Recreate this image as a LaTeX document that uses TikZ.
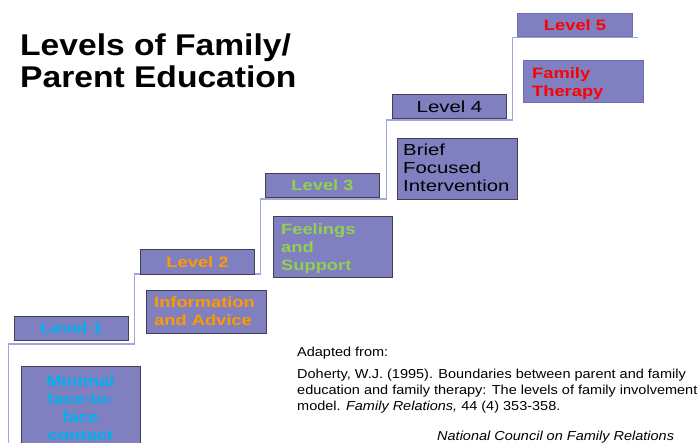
\documentclass[tikz,border=0pt]{standalone}
\usepackage{fontspec}
\setmainfont{Liberation Sans}
\newfontfamily\titlef[FakeStretch=1.12]{Liberation Sans}
\newfontfamily\boxf[FakeStretch=1.22]{Liberation Sans}
\newfontfamily\regf[FakeStretch=1.27]{Liberation Sans}
\newfontfamily\citef[FakeStretch=1.115]{Liberation Sans}
\definecolor{boxfill}{RGB}{128,128,192}
\definecolor{boxline}{RGB}{64,64,84}
\definecolor{boxline5}{RGB}{110,110,180}
\definecolor{stair}{RGB}{165,165,220}
\definecolor{lcyan}{RGB}{0,176,240}
\definecolor{lorange}{RGB}{255,153,0}
\definecolor{lgreen}{RGB}{146,208,80}
\definecolor{lred}{RGB}{255,0,0}
\tikzset{
  box/.style={draw=boxline, line width=1pt, fill=boxfill, inner sep=0pt, anchor=north west},
  lvl/.style={box, minimum width=114pt, minimum height=24pt, font=\boxf\fontsize{15}{18}\selectfont\bfseries},
  body/.style={inner sep=0pt, anchor=north west, align=left, font=\boxf\fontsize{15}{18}\selectfont\bfseries},
  stairline/.style={draw=stair, line width=1.5pt}
}
\begin{document}
\begin{tikzpicture}[x=1pt,y=-1pt]
\clip (0,0) rectangle (700,443);
\fill[white] (0,0) rectangle (700,443);
% staircase
\draw[stairline] (8.5,445) -- (8.5,344) -- (134.5,344) -- (134.5,274) -- (260.5,274) -- (260.5,199) -- (386.5,199) -- (386.5,120) -- (512.5,120) -- (512.5,37.5) -- (638,37.5);
% title
\node[inner sep=0pt, anchor=north west, align=left, font=\titlef\fontsize{30}{32}\selectfont\bfseries] (title) at (20,34) {Levels of Family/\\Parent Education};
% level boxes
\node[lvl, text=lcyan] (l1) at (14,316) {Level 1};
\node[lvl, text=lorange, minimum height=25pt] (l2) at (140,249) {Level 2};
\node[lvl, text=lgreen] (l3) at (265,173) {Level 3};
\node[lvl, font=\regf\fontsize{16}{18}\selectfont] (l4) at (392,94) {Level 4};
\node[lvl, draw=boxline5, text=lred, minimum width=115pt, minimum height=23pt] (l5) at (517,13) {Level 5};
% content boxes
\node[box, minimum width=119pt, minimum height=90pt] (b1) at (21,366) {};
\node[body, anchor=north, align=center, text=lcyan] (t1) at (80.5,375) {Minimal\\face-to-\\face\\contact};
\node[box, minimum width=120pt, minimum height=43pt] (b2) at (146,290) {};
\node[body, text=lorange] (t2) at (154,296) {Information\\and Advice};
\node[box, minimum width=119pt, minimum height=61pt] (b3) at (273,216) {};
\node[body, text=lgreen] (t3) at (281,223) {Feelings\\and\\Support};
\node[box, minimum width=120pt, minimum height=61pt] (b4) at (397,138) {};
\node[body, font=\regf\fontsize{16}{18}\selectfont] (t4) at (403,144) {Brief\\Focused\\Intervention};
\node[box, draw=boxline5, minimum width=120pt, minimum height=42pt] (b5) at (523,60) {};
\node[body, text=lred] (t5) at (532,67) {Family\\Therapy};
% citation
\node[inner sep=0pt, anchor=north west, font=\citef\fontsize{13}{16}\selectfont] (adapt) at (297,347) {Adapted from:};
\node[inner sep=0pt, anchor=north west, align=left, font=\citef\fontsize{13}{16}\selectfont] (cite) at (297,369) {Doherty, W.J. (1995). Boundaries between parent and family\\education and family therapy: The levels of family involvement\\model. \textit{Family Relations,} 44 (4) 353-358.};
\node[inner sep=0pt, anchor=north west, font=\citef\fontsize{13}{16}\selectfont\itshape] (ncfr) at (437,431) {National Council on Family Relations};
\end{tikzpicture}
\end{document}
